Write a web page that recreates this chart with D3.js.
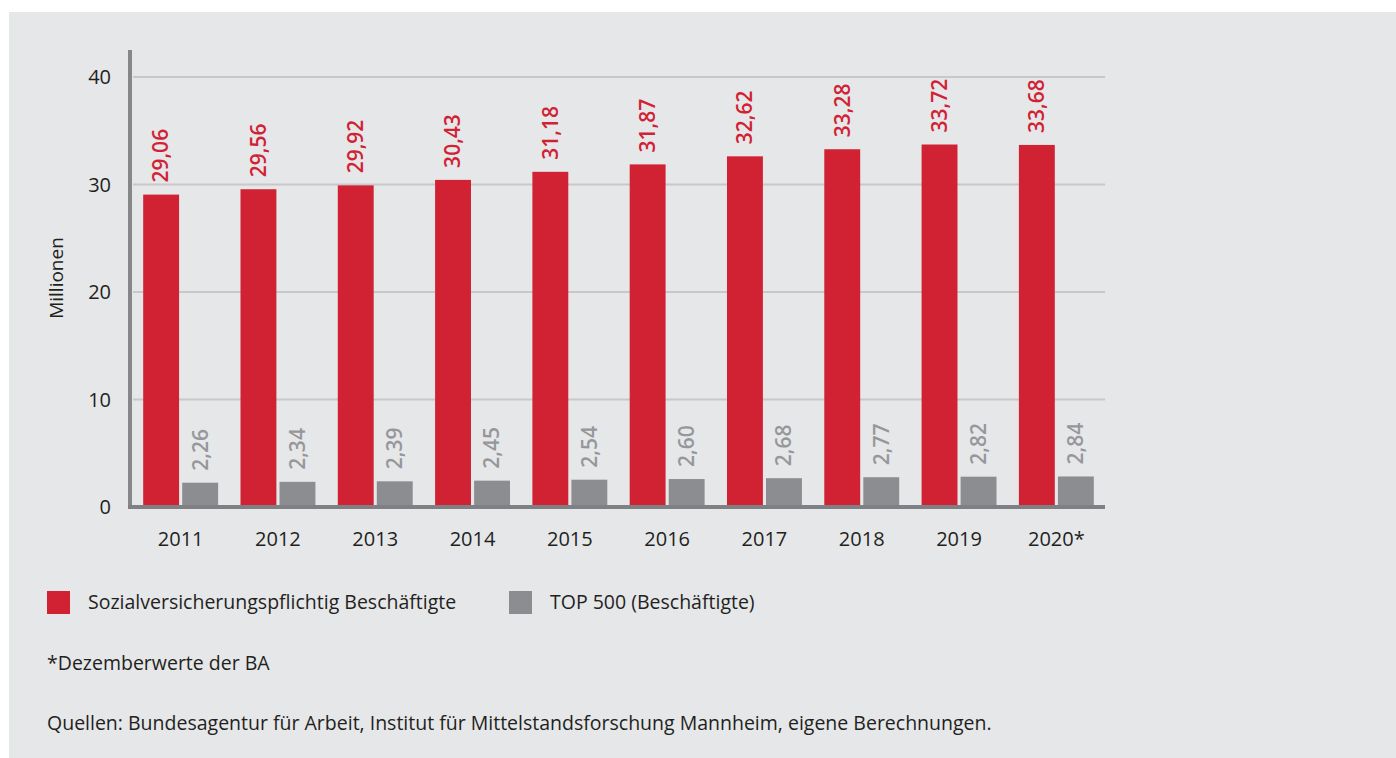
<!DOCTYPE html>
<html>
<head>
<meta charset="utf-8">
<script src="https://cdn.jsdelivr.net/npm/d3@7"></script>
<style>
  body { margin: 0; background: #fff; }
  text { font-family: "Open Sans", sans-serif; }
</style>
</head>
<body>
<script>
var years = ['2011', '2012', '2013', '2014', '2015', '2016', '2017', '2018', '2019', '2020*'];
var sozial = [29.06, 29.56, 29.92, 30.43, 31.18, 31.87, 32.62, 33.28, 33.72, 33.68];
var top500 = [2.26, 2.34, 2.39, 2.45, 2.54, 2.60, 2.68, 2.77, 2.82, 2.84];
var yTicks = [0, 10, 20, 30, 40];
var seriesNames = ['Sozialversicherungspflichtig Beschäftigte', 'TOP 500 (Beschäftigte)'];

var width = 1396, height = 758;
var red = '#d12234', grey = '#8c8d90';

var svg = d3.select('body').append('svg')
    .attr('width', width)
    .attr('height', height);

// grey panel
svg.append('rect')
    .attr('x', 9).attr('y', 12)
    .attr('width', width - 9).attr('height', height - 12)
    .attr('fill', '#e6e7e9');

var x = d3.scaleBand()
    .domain(years)
    .range([132, 1105])
    .paddingInner(0.23)
    .paddingOuter(0.115);

var xSub = d3.scaleBand()
    .domain(['s', 't'])
    .range([0, x.bandwidth()])
    .paddingInner(0.08);

var y = d3.scaleLinear()
    .domain([0, 40])
    .range([507, 77]);

// grid lines
svg.append('g')
    .selectAll('line')
    .data(yTicks.filter(d => d > 0))
    .enter()
    .append('line')
        .attr('x1', 133).attr('x2', 1105)
        .attr('y1', d => y(d)).attr('y2', d => y(d))
        .attr('stroke', '#c8c8c8')
        .attr('stroke-width', 2);

// y tick labels
svg.append('g')
    .selectAll('text')
    .data(yTicks)
    .enter()
    .append('text')
        .attr('x', 111)
        .attr('y', d => y(d))
        .attr('dy', '0.35em')
        .attr('text-anchor', 'end')
        .attr('font-size', 20)
        .attr('fill', '#231f20')
        .text(d => d);

svg.append('text')
    .attr('transform', 'translate(63,278) rotate(-90)')
    .attr('text-anchor', 'middle')
    .attr('font-size', 19)
    .attr('fill', '#231f20')
    .text('Millionen');

var groups = svg.append('g')
    .selectAll('g')
    .data(years)
    .enter()
    .append('g')
        .attr('transform', d => 'translate(' + x(d) + ',0)');

// red bars
groups.append('rect')
    .attr('x', xSub('s'))
    .attr('width', xSub.bandwidth())
    .attr('y', (d, i) => y(sozial[i]))
    .attr('height', (d, i) => y(0) - y(sozial[i]))
    .attr('fill', red);

// grey bars
groups.append('rect')
    .attr('x', xSub('t'))
    .attr('width', xSub.bandwidth())
    .attr('y', (d, i) => y(top500[i]))
    .attr('height', (d, i) => y(0) - y(top500[i]))
    .attr('fill', grey);

var fmt = v => v.toFixed(2).replace('.', ',');

groups.append('text')
    .attr('transform', (d, i) => 'translate(' + (xSub('s') + xSub.bandwidth() / 2) + ',' + (y(sozial[i]) - 12) + ') rotate(-90)')
    .attr('dy', '0.35em')
    .attr('font-size', 21)
    .attr('font-weight', 600)
    .attr('fill', red)
    .text((d, i) => fmt(sozial[i]));

groups.append('text')
    .attr('transform', (d, i) => 'translate(' + (xSub('t') + xSub.bandwidth() / 2) + ',' + (y(top500[i]) - 12) + ') rotate(-90)')
    .attr('dy', '0.35em')
    .attr('font-size', 21)
    .attr('font-weight', 600)
    .attr('fill', '#96979a')
    .text((d, i) => fmt(top500[i]));

// year labels
groups.append('text')
    .attr('x', x.bandwidth() / 2)
    .attr('y', 546)
    .attr('text-anchor', 'middle')
    .attr('font-size', 20)
    .attr('fill', '#231f20')
    .text(d => d);

// axes lines
svg.append('line')
    .attr('x1', 130).attr('x2', 130)
    .attr('y1', 50).attr('y2', 509)
    .attr('stroke', '#868789')
    .attr('stroke-width', 4);

svg.append('line')
    .attr('x1', 128).attr('x2', 1105)
    .attr('y1', 507).attr('y2', 507)
    .attr('stroke', '#7f8083')
    .attr('stroke-width', 4);

// legend
var legend = svg.append('g');
var legendX = [47, 509];
var legendColors = [red, grey];
seriesNames.forEach((name, i) => {
    legend.append('rect')
        .attr('x', legendX[i]).attr('y', 591)
        .attr('width', 23).attr('height', 23)
        .attr('fill', legendColors[i]);
    legend.append('text')
        .attr('x', legendX[i] + 41).attr('y', 609)
        .attr('font-size', 19.5)
        .attr('fill', '#231f20')
        .text(name);
});

svg.append('text')
    .attr('x', 47).attr('y', 670)
    .attr('font-size', 19.5)
    .attr('fill', '#231f20')
    .text('*Dezemberwerte der BA');

svg.append('text')
    .attr('x', 47).attr('y', 730)
    .attr('font-size', 19.5)
    .attr('fill', '#231f20')
    .text('Quellen: Bundesagentur für Arbeit, Institut für Mittelstandsforschung Mannheim, eigene Berechnungen.');
</script>
</body>
</html>
